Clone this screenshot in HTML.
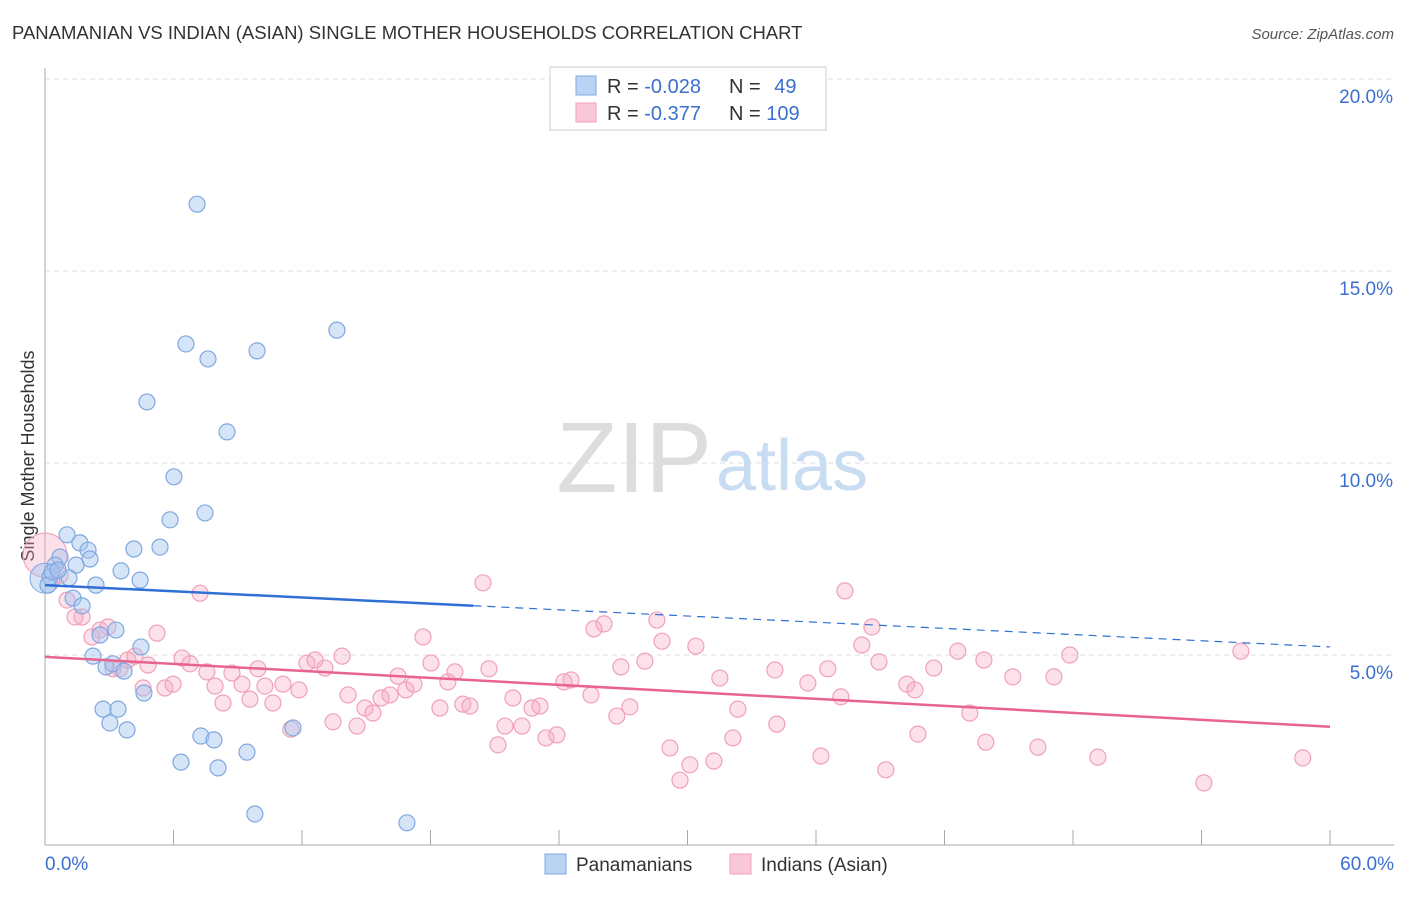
<!DOCTYPE html>
<html><head><meta charset="utf-8"><style>
body{margin:0;background:#fff;font-family:"Liberation Sans",sans-serif}
svg text{font-family:"Liberation Sans",sans-serif}
</style></head><body>
<svg id="chart" width="1406" height="892">
<text x="12" y="39" font-size="18.5" fill="#333">PANAMANIAN VS INDIAN (ASIAN) SINGLE MOTHER HOUSEHOLDS CORRELATION CHART</text>
<text x="1394" y="39" font-size="15" fill="#555" font-style="italic" text-anchor="end">Source: ZipAtlas.com</text>
<text x="34" y="456" font-size="18" fill="#333" text-anchor="middle" transform="rotate(-90 34 456)">Single Mother Households</text>
<g id="grid"></g>
<text x="712" y="492" font-size="100" fill="#ddd" text-anchor="end" font-family="Liberation Serif">ZIP</text>
<text x="716" y="490" font-size="72" fill="#c8dcf2">atlas</text>
<g id="marks"></g>
<g id="lines"></g>
<g>
<rect x="550" y="67" width="276" height="63" fill="#fff" stroke="#ccc"/>
<rect x="576" y="76" width="20" height="19" fill="#b9d3f5" stroke="#7fa8e0"/>
<rect x="576" y="103" width="20" height="19" fill="#fac8d8" stroke="#f0a0b8"/>
<text x="607" y="93" font-size="20" fill="#333">R = <tspan fill="#3c6fd0">-0.028</tspan></text>
<text x="729" y="93" font-size="20" fill="#333">N = <tspan fill="#3c6fd0" dx="8">49</tspan></text>
<text x="607" y="120" font-size="20" fill="#333">R = <tspan fill="#3c6fd0">-0.377</tspan></text>
<text x="729" y="120" font-size="20" fill="#333">N = <tspan fill="#3c6fd0">109</tspan></text>
</g>
<g>
<rect x="545" y="854" width="21" height="20" fill="#b9d3f5" stroke="#7fa8e0"/>
<text x="576" y="871" font-size="19" fill="#333">Panamanians</text>
<rect x="730" y="854" width="21" height="20" fill="#fac8d8" stroke="#f0a0b8"/>
<text x="761" y="871" font-size="19" fill="#333">Indians (Asian)</text>
</g>
</svg>
<script>
const blueX=[7.10,6.58,7.61,9.90,13.63,4.76,8.50,6.02,7.47,5.84,1.03,0.70,1.63,2.01,2.10,1.45,4.15,5.37,3.55,4.44,1.12,2.38,0.47,0.23,1.31,1.73,3.31,2.57,4.48,2.24,2.85,3.17,3.69,4.62,2.71,3.41,3.03,3.83,11.58,7.28,7.89,9.43,6.35,8.08,9.80,16.90,0.14,0.33,0.61];
const blueY=[16.74,13.10,12.71,12.92,13.46,11.59,10.81,9.64,8.70,8.52,8.13,7.55,7.92,7.73,7.50,7.34,7.76,7.81,7.19,6.95,7.01,6.82,7.34,7.03,6.48,6.28,5.65,5.52,5.21,4.97,4.69,4.77,4.58,4.01,3.59,3.59,3.23,3.05,3.10,2.89,2.79,2.47,2.21,2.06,0.86,0.63,6.82,7.16,7.21];
const pinkX=[0.70,1.03,1.40,1.73,2.19,2.57,2.94,3.17,3.50,3.87,4.20,4.58,4.81,5.23,5.60,5.98,6.40,6.77,7.24,7.56,7.94,8.31,8.73,9.20,9.57,9.94,10.27,10.64,11.11,11.48,11.86,12.23,12.61,13.07,13.45,13.87,14.15,14.57,14.94,15.31,15.69,16.11,16.48,16.85,17.23,17.65,18.02,18.44,18.81,19.14,19.51,19.84,20.45,20.73,21.15,21.48,21.85,22.27,22.74,23.11,23.39,23.90,24.23,24.56,25.49,25.63,26.10,26.70,26.89,27.31,28.01,28.57,28.81,29.18,29.65,30.11,30.39,31.23,31.51,32.12,32.35,34.08,34.17,35.62,36.23,36.55,37.16,37.35,38.14,38.61,38.94,39.26,40.24,40.62,40.76,41.50,42.62,43.18,43.84,43.93,45.19,46.36,47.11,47.85,49.16,54.11,55.84,58.73];
const pinkY=[7.08,6.43,5.99,5.99,5.47,5.65,5.73,4.64,4.64,4.87,4.97,4.14,4.74,5.57,4.14,4.24,4.92,4.77,6.61,4.56,4.19,3.75,4.53,4.24,3.85,4.64,4.19,3.75,4.24,3.07,4.09,4.79,4.87,4.66,3.26,4.97,3.96,3.15,3.62,3.49,3.88,3.96,4.45,4.09,4.24,5.47,4.79,3.62,4.30,4.56,3.72,3.67,6.88,4.64,2.66,3.15,3.88,3.15,3.62,3.67,2.84,2.92,4.30,4.35,3.96,5.68,5.81,3.41,4.69,3.65,4.84,5.91,5.36,2.58,1.74,2.14,5.23,2.24,4.40,2.84,3.59,4.61,3.20,4.27,2.37,4.64,3.91,6.67,5.26,5.73,4.82,2.01,4.24,4.09,2.94,4.66,5.10,3.49,4.87,2.73,4.43,2.60,4.43,5.00,2.34,1.67,5.10,2.32];
const blueTrend=[6.82,5.21]; // at x=0 and x=60
const pinkTrend=[4.95,3.13];
const blueSolidEnd=20;
const yTicks=[5,10,15,20];
const xTickLabels=["0.0%","60.0%"];
const NS="http://www.w3.org/2000/svg";
const X=v=>45+v*1285/60, Y=v=>847-v*38.4;
function el(t,a,p){const e=document.createElementNS(NS,t);for(const k in a)e.setAttribute(k,a[k]);p.appendChild(e);return e;}
const grid=document.getElementById('grid'),marks=document.getElementById('marks'),lines=document.getElementById('lines');
for(const t of yTicks){
 const l=el('line',{x1:45,x2:1394,y1:Y(t),y2:Y(t),stroke:'#ddd','stroke-dasharray':'5,4'},grid);
 
 
 const tx=el('text',{x:1393,y:Y(t)+24,'font-size':19,fill:'#3c6fd0','text-anchor':'end'},grid);
 tx.textContent=t.toFixed(1)+'%';
 
 
}
const ax=el('line',{x1:45,x2:45,y1:68,y2:845,stroke:'#aaa'},grid);


const bx=el('line',{x1:45,x2:1394,y1:845,y2:845,stroke:'#aaa'},grid);


for(let i=1;i<=10;i++){
 const tk=el('line',{x1:X(i*6),x2:X(i*6),y1:830,y2:845,stroke:'#aaa'},grid);
 
 
}
const xl0=el('text',{x:45,y:870,'font-size':19,fill:'#3c6fd0'},grid);xl0.textContent=xTickLabels[0];


const xl1=el('text',{x:1394,y:870,'font-size':19,fill:'#3c6fd0','text-anchor':'end'},grid);xl1.textContent=xTickLabels[1];


const bp=el('circle',{cx:X(0),cy:Y(7.6),r:22,fill:'rgba(245,170,195,0.35)',stroke:'#f0a0b8'},marks);


const bb=el('circle',{cx:X(0),cy:Y(7.0),r:15,fill:'rgba(165,195,240,0.45)',stroke:'#7fa8e0'},marks);


pinkX.forEach((x,i)=>{
 const c=el('circle',{cx:X(x),cy:Y(pinkY[i]),r:8,fill:'rgba(245,170,195,0.35)',stroke:'#f0a0b8','stroke-width':1.2},marks);
 
 
});
blueX.forEach((x,i)=>{
 const c=el('circle',{cx:X(x),cy:Y(blueY[i]),r:8,fill:'rgba(165,195,240,0.45)',stroke:'#7fa8e0','stroke-width':1.2},marks);
 
 
});
const bY=x=>blueTrend[0]+(blueTrend[1]-blueTrend[0])*x/60;
const l1=el('line',{x1:X(0),y1:Y(bY(0)),x2:X(blueSolidEnd),y2:Y(bY(blueSolidEnd)),stroke:'#2f6fd6','stroke-width':2.5},lines);


const l2=el('line',{x1:X(blueSolidEnd),y1:Y(bY(blueSolidEnd)),x2:X(60),y2:Y(bY(60)),stroke:'#2f6fd6','stroke-width':1.2,'stroke-dasharray':'8,6'},lines);


const l3=el('line',{x1:X(0),y1:Y(pinkTrend[0]),x2:X(60),y2:Y(pinkTrend[1]),stroke:'#e8648f','stroke-width':2.5},lines);


</script>
</body></html>
